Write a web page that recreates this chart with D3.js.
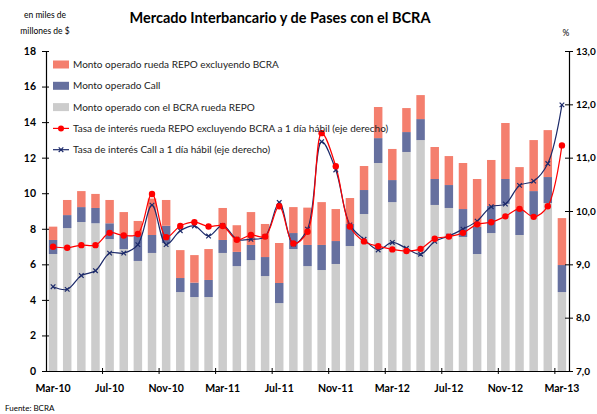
<!DOCTYPE html>
<html>
<head>
<meta charset="utf-8">
<script src="https://cdn.jsdelivr.net/npm/d3@7"></script>
<style>
  body { margin: 0; background: #fff; }
  svg { font-family: Lato, "Open Sans", sans-serif; }
</style>
</head>
<body>
<div id="chart"></div>
<script>
// Months (Mar-10 to Mar-13)
const months = ["Mar-10","Abr-10","May-10","Jun-10","Jul-10","Ago-10","Sep-10","Oct-10","Nov-10","Dic-10",
  "Ene-11","Feb-11","Mar-11","Abr-11","May-11","Jun-11","Jul-11","Ago-11","Sep-11","Oct-11","Nov-11","Dic-11",
  "Ene-12","Feb-12","Mar-12","Abr-12","May-12","Jun-12","Jul-12","Ago-12","Sep-12","Oct-12","Nov-12","Dic-12",
  "Ene-13","Feb-13","Mar-13"];
const tickLabels = ["Mar-10","Jul-10","Nov-10","Mar-11","Jul-11","Nov-11","Mar-12","Jul-12","Nov-12","Mar-13"];

// Amounts, miles de millones de $
const bcraRepo = [6.58, 8.04, 8.38, 8.31, 7.42, 6.86, 6.19, 6.64, 7.2, 4.44, 4.16, 4.16, 6.64, 5.9, 6.24, 5.34, 3.82, 6.86, 5.9,
  5.68, 6.02, 7.03, 8.83, 11.7, 9.5, 12.32, 12.99, 9.34, 9.17, 7.54, 6.58, 7.76, 9.4, 7.65, 8.77, 9.45, 4.44];
const call = [0.79, 0.73, 0.84, 0.86, 0.89, 0.79, 1.44, 1.01, 0.97, 0.79, 0.81, 0.96, 0.73, 0.8, 0.85, 1.07, 1.13, 0.9, 1.19,
  1.41, 1.29, 1.24, 1.35, 1.4, 1.24, 1.12, 1.18, 1.46, 1.29, 1.57, 1.52, 1.52, 1.4, 1.41, 1.35, 1.46, 1.52];
const repoExcl = [0.75, 0.85, 0.9, 0.79, 1.31, 1.29, 0.81, 2.05, 1.45, 1.57, 1.55, 1.74, 1.8, 1.5, 1.85, 1.86, 2.25, 1.46, 2.1,
  2.41, 1.8, 1.46, 1.35, 1.75, 1.75, 1.35, 1.35, 1.8, 1.63, 2.59, 2.7, 2.59, 3.15, 2.41, 2.87, 2.64, 2.64];

// Rates, % (right axis)
const repoRate = [9.33, 9.31, 9.36, 9.36, 9.59, 9.54, 9.57, 10.32, 9.51, 9.72, 9.79, 9.71, 9.72, 9.46, 9.55, 9.52, 10.09, 9.39, 9.61,
  11.46, 10.84, 9.71, 9.43, 9.34, 9.28, 9.25, 9.29, 9.48, 9.52, 9.59, 9.75, 9.79, 9.9, 10.04, 9.89, 10.09, 11.23];
const callRate = [8.58, 8.53, 8.79, 8.88, 9.21, 9.21, 9.37, 10.11, 9.37, 9.63, 9.72, 9.53, 9.73, 9.47, 9.47, 9.52, 10.16, 9.38, 9.66,
  11.3, 10.77, 9.74, 9.47, 9.27, 9.41, 9.3, 9.19, 9.43, 9.53, 9.66, 9.81, 10.08, 10.13, 10.48, 10.56, 10.89, 11.99];

const leftTicks = [0, 2, 4, 6, 8, 10, 12, 14, 16, 18];
const rightTicks = [7, 8, 9, 10, 11, 12, 13];

const width = 597, height = 414;
const margin = {top: 51, right: 28, bottom: 43, left: 46};

const colors = {repoExcl: "#f47f6e", call: "#66709f", bcra: "#cccccc", repoRate: "#ff0000", callRate: "#1c2a6a"};

const svg = d3.select("#chart").append("svg")
  .attr("width", width)
  .attr("height", height);

const x = d3.scaleBand()
  .domain(months)
  .range([margin.left, width - margin.right])
  .paddingInner(0.4)
  .paddingOuter(0.2);

const yL = d3.scaleLinear().domain([0, 18]).range([height - margin.bottom, margin.top]);
const yR = d3.scaleLinear().domain([7, 13]).range([height - margin.bottom, margin.top]);

// stacked bars
const table = months.map((m, i) => ({month: m, bcra: bcraRepo[i], call: call[i], repoExcl: repoExcl[i]}));
const stack = d3.stack().keys(["bcra", "call", "repoExcl"])(table);

svg.append("g")
  .selectAll("g")
  .data(stack)
  .join("g")
  .attr("fill", d => colors[d.key])
  .selectAll("rect")
  .data(d => d)
  .join("rect")
  .attr("x", d => x(d.data.month))
  .attr("width", x.bandwidth())
  .attr("y", d => yL(d[1]))
  .attr("height", d => yL(d[0]) - yL(d[1]));

// axes
const fmtR = d => d3.format(".1f")(d).replace(".", ",");

const left = svg.append("g")
  .attr("transform", `translate(${margin.left},0)`)
  .call(d3.axisLeft(yL).tickValues(leftTicks).tickSize(4).tickSizeOuter(0).tickPadding(6));
left.selectAll(".tick line").attr("x1", 3);

const right = svg.append("g")
  .attr("transform", `translate(${width - margin.right},0)`)
  .call(d3.axisRight(yR).tickValues(rightTicks).tickFormat(fmtR).tickSize(4).tickSizeOuter(0).tickPadding(3));
right.selectAll(".tick line").attr("x1", -4);

const bottom = svg.append("g")
  .attr("transform", `translate(0,${height - margin.bottom})`)
  .call(d3.axisBottom(x).tickValues(tickLabels).tickSize(0).tickPadding(14));

// tick marks between categories, every 4 months
const step = x.step();
bottom.selectAll(".sep")
  .data(months.filter((m, i) => i > 0 && i % 4 === 0))
  .join("line")
  .attr("class", "sep")
  .attr("x1", d => x(d) - step * 0.2)
  .attr("x2", d => x(d) - step * 0.2)
  .attr("y1", -3)
  .attr("y2", 3)
  .attr("stroke", "#000");

[left, right, bottom].forEach(g => {
  g.selectAll(".domain").attr("stroke", "#000").attr("stroke-width", 1.2);
  g.selectAll("text").attr("font-size", 10.5).attr("font-weight", "bold").attr("fill", "#000")
    .style("font-family", "Lato, sans-serif");
});
right.selectAll("text").attr("font-size", 10);

// rate lines
const cx = m => x(m) + x.bandwidth() / 2;
const line = d3.line().curve(d3.curveCatmullRom.alpha(0.5));

svg.append("path")
  .attr("d", line(months.map((m, i) => [cx(m), yR(callRate[i])])))
  .attr("fill", "none")
  .attr("stroke", colors.callRate)
  .attr("stroke-width", 1.2);

svg.append("path")
  .attr("d", line(months.map((m, i) => [cx(m), yR(repoRate[i])])))
  .attr("fill", "none")
  .attr("stroke", colors.repoRate)
  .attr("stroke-width", 1.2);

function cross(g, px, py, s) {
  g.append("path")
    .attr("d", `M${px - s},${py - s}L${px + s},${py + s}M${px - s},${py + s}L${px + s},${py - s}`)
    .attr("stroke", colors.callRate)
    .attr("stroke-width", 1.2);
}

const markers = svg.append("g");
months.forEach((m, i) => cross(markers, cx(m), yR(callRate[i]), 2.3));
markers.selectAll("circle")
  .data(months)
  .join("circle")
  .attr("cx", d => cx(d))
  .attr("cy", (d, i) => yR(repoRate[i]))
  .attr("r", 3.2)
  .attr("fill", colors.repoRate);

// legend
const legendItems = [
  {label: "Monto operado rueda REPO excluyendo BCRA", type: "bar", color: colors.repoExcl},
  {label: "Monto operado Call", type: "bar", color: colors.call},
  {label: "Monto operado con el BCRA rueda REPO", type: "bar", color: colors.bcra},
  {label: "Tasa de interés rueda REPO excluyendo BCRA a 1 día hábil (eje derecho)", type: "dot", color: colors.repoRate},
  {label: "Tasa de interés Call a 1 día hábil (eje derecho)", type: "cross", color: colors.callRate}
];

const legend = svg.append("g").attr("transform", "translate(53,64.5)");
legendItems.forEach((d, i) => {
  const g = legend.append("g").attr("transform", `translate(0,${i * 21.3})`);
  if (d.type === "bar") {
    g.append("rect").attr("x", 0).attr("y", -4).attr("width", 16).attr("height", 8).attr("fill", d.color);
  } else {
    g.append("line").attr("x1", 0).attr("x2", 16).attr("stroke", d.color).attr("stroke-width", 1.2);
    if (d.type === "dot") g.append("circle").attr("cx", 8).attr("r", 3).attr("fill", d.color);
    else cross(g, 8, 0, 2.3);
  }
  g.append("text")
    .attr("x", 20)
    .attr("dy", "0.35em")
    .attr("font-size", 10)
    .attr("fill", "#222")
    .text(d.label);
});

// titles and notes
svg.append("text")
  .attr("x", 280)
  .attr("y", 23)
  .attr("text-anchor", "middle")
  .attr("font-size", 14.5)
  .attr("font-weight", "bold")
  .text("Mercado Interbancario y de Pases con el BCRA");

svg.append("text").attr("x", 45).attr("y", 18).attr("text-anchor", "middle").attr("font-size", 8.5).text("en miles de");
svg.append("text").attr("x", 45).attr("y", 34).attr("text-anchor", "middle").attr("font-size", 8.5).text("millones de $");
svg.append("text").attr("x", 566).attr("y", 36).attr("text-anchor", "middle").attr("font-size", 8.5).text("%");
svg.append("text").attr("x", 5).attr("y", 411).attr("font-size", 8).text("Fuente: BCRA");
</script>
</body>
</html>
